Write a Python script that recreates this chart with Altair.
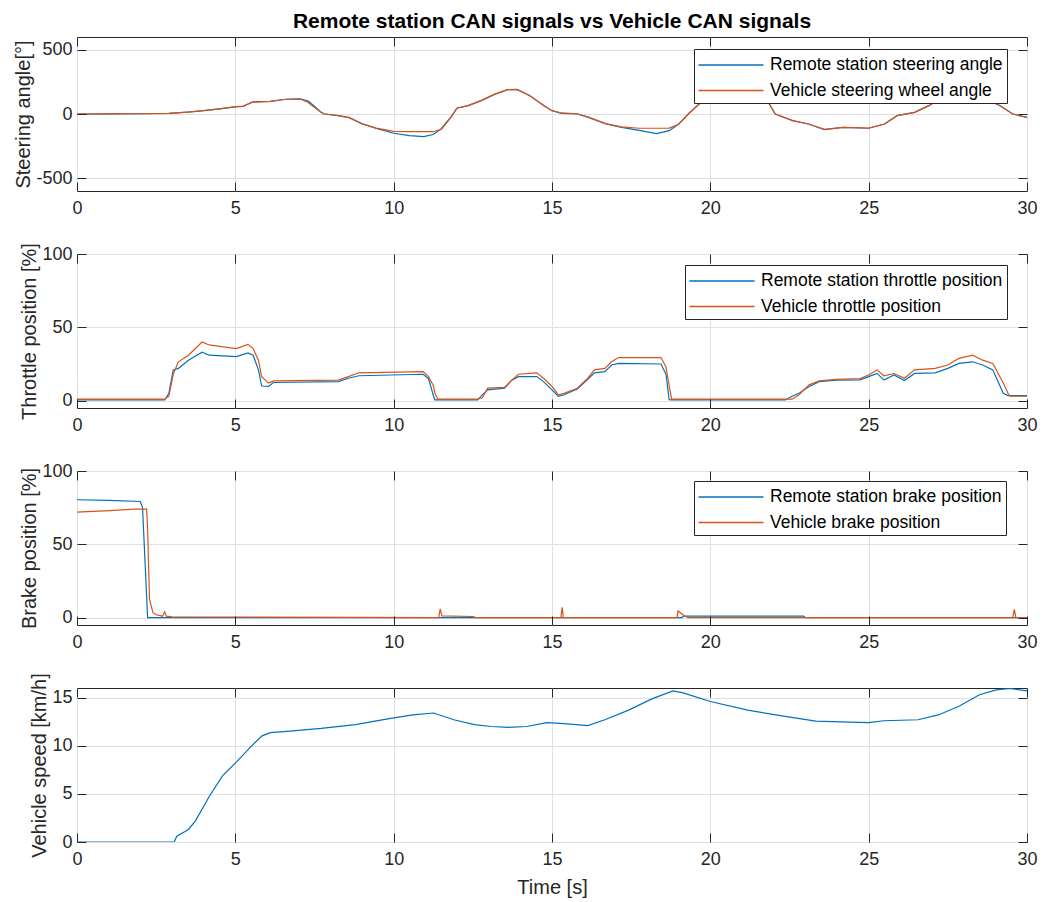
import altair as alt
import pandas as pd

FONT = "Liberation Sans"
BLUE = "#0072BD"
ORANGE = "#D95319"
DARK = "#262626"

X_TICKS = [0, 5, 10, 15, 20, 25, 30]

# ---------------- Steering angle ----------------
steer_t = [0, 1, 2, 2.9, 3.5, 4.0, 4.5, 5.0, 5.25, 5.55, 6.1, 6.6, 7.05, 7.3, 7.5, 7.7, 7.8,
           8.25, 8.6, 9.0, 9.45, 10.0, 10.5, 10.95, 11.25, 11.5, 11.8, 12.0, 12.35, 12.75,
           13.2, 13.6, 13.9, 14.3, 14.75, 15.0, 15.3, 15.8, 16.15, 16.7, 17.2, 17.75, 18.3,
           18.7, 19.0, 19.35, 19.7, 20.0, 20.5, 21.0, 21.5, 21.8, 22.05, 22.6, 23.1, 23.6,
           24.2, 25.0, 25.5, 25.9, 26.45, 26.9, 27.15, 27.6, 28.1, 28.5, 28.82, 29.15, 29.55, 30.0]
steer_remote = [0, 1, 2, 5, 15, 26, 40, 55, 60, 95, 98, 115, 118, 100, 60, 15, 0,
                -13, -28, -75, -112, -150, -168, -176, -160, -115, -26, 45, 65, 102,
                155, 190, 192, 142, 65, 26, 5, 0, -26, -78, -104, -128, -153,
                -130, -78, 13, 91, 155, 215, 235, 190, 104, 0, -52, -78, -122,
                -104, -111, -78, -13, 13, 65, 104, 160, 185, 160, 104, 65, 0, -26]
steer_vehicle = [0, 1, 2, 5, 15, 26, 40, 57, 62, 92, 98, 115, 117, 90, 50, 13, 2,
                 -13, -28, -78, -110, -135, -137, -138, -138, -120, -30, 47, 65, 104,
                 155, 190, 190, 142, 65, 26, 8, 2, -24, -75, -100, -111, -111,
                 -110, -80, 10, 88, 150, 210, 230, 190, 104, 0, -52, -78, -120,
                 -104, -110, -78, -13, 13, 65, 104, 160, 185, 160, 104, 65, 0, -26]

# ---------------- Throttle position ----------------
thr_t = [0, 2.77, 2.9, 3.04, 3.2, 3.52, 3.95, 4.17, 5.03, 5.4, 5.56, 5.73, 5.83, 6.05, 6.2,
         8.25, 8.57, 8.9, 10.93, 11.1, 11.26, 11.3, 11.4, 12.65, 12.8, 12.97, 13.5, 13.73,
         13.94, 14.52, 14.73, 15.0, 15.2, 15.38, 15.8, 16.13, 16.34, 16.67, 16.88, 17.1,
         18.44, 18.6, 18.7, 18.78, 22.37, 22.58, 22.8, 23.12, 23.44, 23.98, 24.73, 25.0,
         25.27, 25.48, 25.8, 26.13, 26.45, 27.1, 27.5, 27.85, 28.28, 28.6, 28.92, 29.25,
         29.4, 29.46, 30.0]
thr_remote = [0.5, 0.5, 5, 21, 22, 27.6, 33, 31, 30, 32.6, 31, 21, 10, 9.7, 12.4,
              13, 15.3, 17, 18, 15, 3, 0.5, 0.5, 0.5, 4, 7.4, 8.5, 14,
              16.4, 16.4, 13, 7.4, 3, 4, 8, 14.5, 19, 19.8, 24.3, 25.4,
              25, 18, 0.7, 0.5, 0.5, 3, 5, 9.7, 13, 14, 14.2, 16.4,
              18.6, 14, 17.5, 13.7, 18.6, 19, 22, 25.4, 26.5, 24.3, 21, 5,
              3.5, 3.5, 3.5]
thr_vehicle = [1, 1, 3, 18, 26.5, 31, 40, 38, 35.5, 38.4, 35.5, 27.6, 16.4, 12, 13.5,
               14, 16.4, 19, 19.8, 16.4, 10, 5, 1, 1, 2, 8.5, 9, 14,
               18, 19, 15.3, 9.7, 4, 5, 8.5, 15.3, 21, 22, 26.5, 29.4,
               29.4, 23, 10, 1, 1, 1, 4, 10.8, 13.5, 14.5, 15, 17.5,
               21, 17, 18.5, 15.3, 21, 22, 24.3, 28.8, 31, 27.6, 25.4, 12,
               5, 3, 3]

# ---------------- Brake position ----------------
brk_remote_t = [0, 1.0, 2.0, 2.07, 2.23, 19.1, 19.15, 22.95, 23.0, 30]
brk_remote = [80.4, 80, 79.2, 75, 0, 0, 1, 1, 0, 0]
brk_vehicle_t = [0, 0.5, 1.05, 1.8, 2.2, 2.23, 2.29, 2.4, 2.5, 2.7, 2.77, 2.82, 3.0,
                 11.42, 11.47, 11.52, 12.5, 12.6, 15.28, 15.32, 15.36, 18.95, 18.98,
                 19.2, 19.3, 29.55, 29.6, 29.65, 30]
brk_vehicle = [72, 72.5, 73, 74, 74, 60, 12.5, 3.4, 2, 1, 4, 1, 0.5,
               0, 6, 1.2, 0.8, 0, 0, 7, 0, 0, 4.6,
               1, 0, 0, 5.7, 0, 0]

# ---------------- Vehicle speed ----------------
spd_t = [0, 3.07, 3.15, 3.52, 3.74, 4.17, 4.6, 5.03, 5.46, 5.83, 6.1, 6.64, 7.71, 8.79,
         9.32, 10.0, 10.61, 11.26, 11.9, 12.55, 13.08, 13.62, 14.2, 14.84, 15.38, 16.13,
         16.67, 17.42, 18.17, 18.82, 19.14, 20.0, 21.18, 22.26, 23.33, 24.4, 25.0, 25.48,
         26.56, 27.2, 27.85, 28.5, 29.03, 29.46, 30.0]
spd = [0, 0, 0.6, 1.3, 2.2, 4.7, 6.9, 8.3, 9.8, 11.0, 11.36, 11.5, 11.8, 12.2,
       12.5, 12.9, 13.2, 13.4, 12.7, 12.2, 12.0, 11.9, 12.0, 12.4, 12.3, 12.1,
       12.7, 13.7, 14.9, 15.7, 15.5, 14.6, 13.7, 13.1, 12.55, 12.45, 12.4, 12.6,
       12.7, 13.2, 14.1, 15.3, 15.8, 15.95, 15.7]

STEER_LABELS = ["Remote station steering angle", "Vehicle steering wheel angle"]
THR_LABELS = ["Remote station throttle position", "Vehicle throttle position"]
BRK_LABELS = ["Remote station brake position", "Vehicle brake position"]


def long_df(t1, v1, t2, v2, names):
    rows = [{"t": a, "v": b, "s": names[0], "k": 0} for a, b in zip(t1, v1)]
    rows += [{"t": a, "v": b, "s": names[1], "k": 1} for a, b in zip(t2, v2)]
    return pd.DataFrame(rows)


def tick_axis(orient, values):
    return alt.Axis(orient=orient, values=values, labels=False, ticks=True, tickSize=9,
                    tickColor=DARK, tickWidth=1, tickOpacity=1, domain=False, grid=False,
                    offset=-9, title=None, minExtent=0, zindex=2)


def panel(df, ytitle, ydom, yvals, names=None, lx=0, ly=0, xtitle=None, title=None):
    xs = alt.Scale(domain=[0, 30], nice=False, zero=False)
    ys = alt.Scale(domain=ydom, nice=False, zero=False)
    xaxis_kw = dict(orient="bottom", values=X_TICKS, grid=True, ticks=False, domain=False,
                    labelFlush=False, labelOverlap=False, labelPadding=8, format="d",
                    minExtent=0)
    if xtitle:
        xaxis = alt.Axis(title=xtitle, titlePadding=9, **xaxis_kw)
    else:
        xaxis = alt.Axis(title=None, **xaxis_kw)
    yaxis = alt.Axis(orient="left", values=yvals, title=ytitle, grid=True, ticks=False,
                     domain=False, labelPadding=5, titlePadding=2,
                     labelExpr="toString(datum.value)")
    enc = dict(x=alt.X("t:Q", scale=xs, axis=xaxis), y=alt.Y("v:Q", scale=ys, axis=yaxis))
    if names:
        enc["color"] = alt.Color(
            "s:N",
            scale=alt.Scale(domain=names, range=[BLUE, ORANGE]),
            legend=alt.Legend(title=None, orient="none", legendX=lx, legendY=ly,
                              direction="vertical", fillColor="white", strokeColor=DARK,
                              padding=4, cornerRadius=0, labelFont=FONT, labelFontSize=17.5,
                              labelColor="black", symbolType="M-3,0H3", symbolSize=470,
                              symbolStrokeWidth=1.5, symbolOffset=21, labelOffset=27,
                              rowPadding=4.5, labelLimit=400),
        )
        enc["detail"] = alt.Detail("k:O")
    else:
        enc["color"] = alt.value(BLUE)
    lines = alt.Chart(df).mark_line(strokeWidth=1.2, clip=True).encode(**enc)
    t1 = alt.Chart(df).mark_line(strokeOpacity=0).encode(
        x=alt.X("t:Q", scale=xs, axis=tick_axis("top", X_TICKS)),
        y=alt.Y("v:Q", scale=ys, axis=tick_axis("right", yvals)),
    )
    t2 = alt.Chart(df).mark_line(strokeOpacity=0).encode(
        x=alt.X("t:Q", scale=xs, axis=tick_axis("bottom", X_TICKS)),
        y=alt.Y("v:Q", scale=ys, axis=tick_axis("left", yvals)),
    )
    props = dict(width=950, height=154)
    if title:
        props["title"] = alt.TitleParams(title, font=FONT, fontSize=21, fontWeight="bold",
                                         color="black", anchor="middle", frame="group",
                                         offset=5)
    return alt.layer(lines, t1, t2).resolve_axis(x="independent", y="independent").properties(**props)


p1 = panel(long_df(steer_t, steer_remote, steer_t, steer_vehicle, STEER_LABELS),
           "Steering angle[°]", [-600, 600], [-500, 0, 500], STEER_LABELS, 617, 12,
           title="Remote station CAN signals vs Vehicle CAN signals")
p2 = panel(long_df(thr_t, thr_remote, thr_t, thr_vehicle, THR_LABELS),
           "Throttle position [%]", [-5, 100], [0, 50, 100], THR_LABELS, 608, 11)
p3 = panel(long_df(brk_remote_t, brk_remote, brk_vehicle_t, brk_vehicle, BRK_LABELS),
           "Brake position [%]", [-5, 100], [0, 50, 100], BRK_LABELS, 617, 10)
p4 = panel(pd.DataFrame({"t": spd_t, "v": spd}),
           "Vehicle speed [km/h]", [0, 16], [0, 5, 10, 15], xtitle="Time [s]")

chart = alt.vconcat(p1, p2, p3, p4, spacing=63, bounds="flush").resolve_scale(
    color="independent"
).resolve_legend(
    color="independent"
).configure(
    background="white", padding={"left": 5, "top": 2, "right": 5, "bottom": 2}
).configure_view(
    stroke=DARK, strokeWidth=1
).configure_axis(
    labelFont=FONT, labelFontSize=18, labelColor=DARK,
    titleFont=FONT, titleFontSize=20, titleFontWeight="normal", titleColor=DARK,
    gridColor="#e0e0e0", gridWidth=1
)

chart.save("out.html", embed_options={"renderer": "svg", "actions": False})
